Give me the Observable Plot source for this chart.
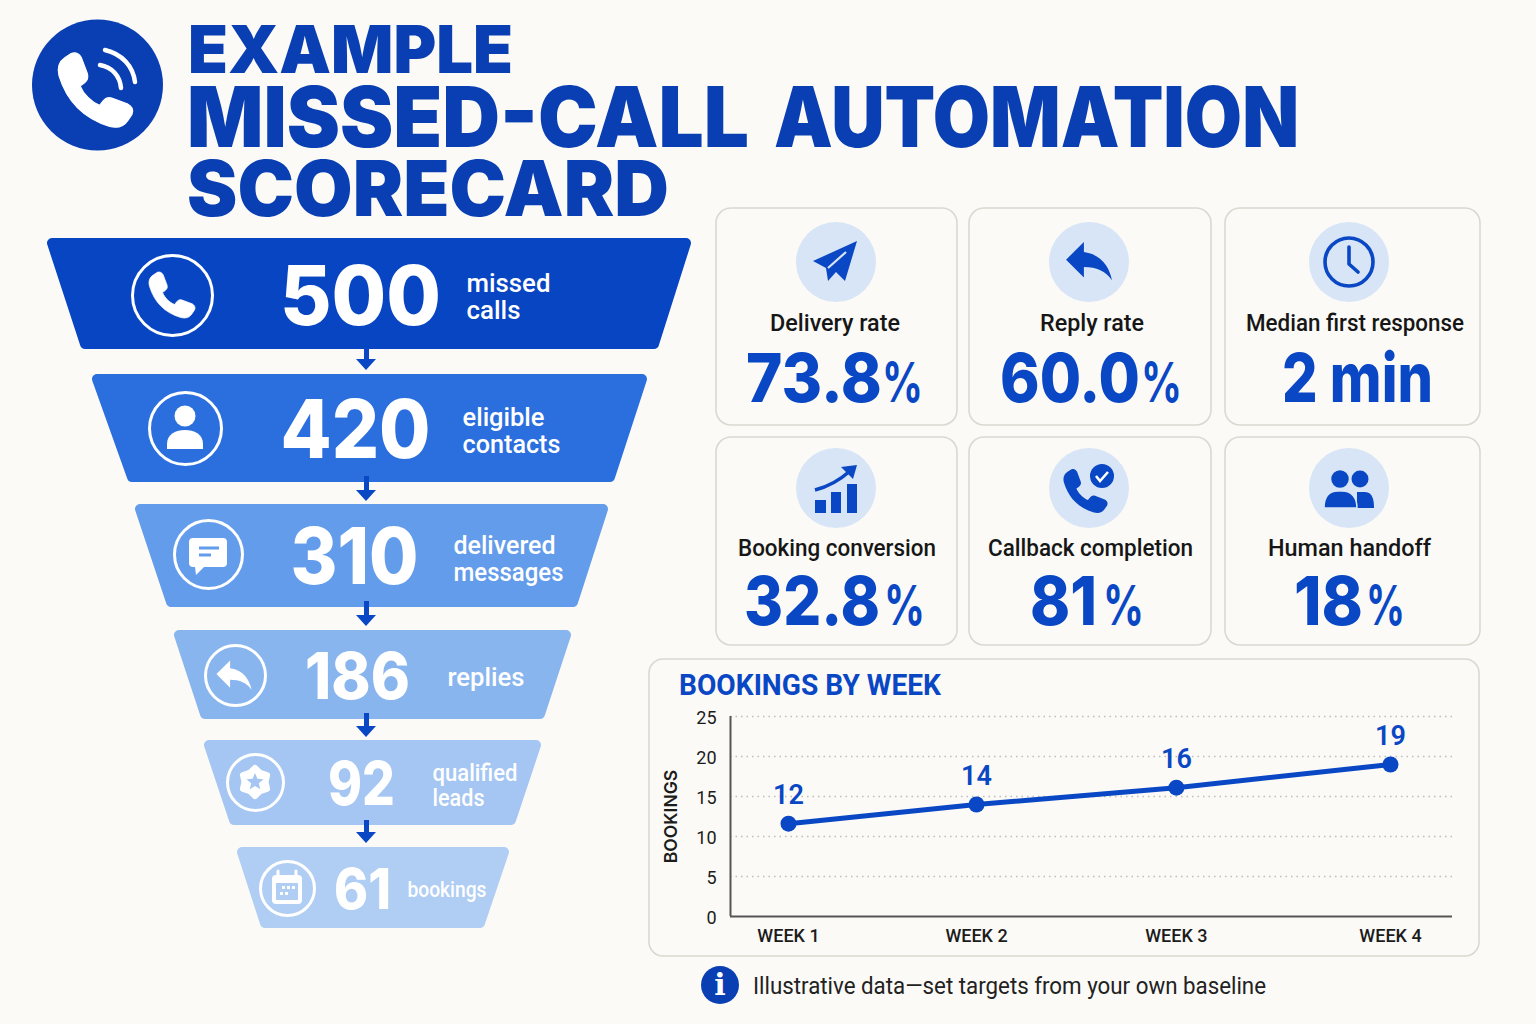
<!DOCTYPE html>
<html><head><meta charset="utf-8">
<script src="https://cdn.jsdelivr.net/npm/d3@7"></script>
<script src="https://cdn.jsdelivr.net/npm/@observablehq/plot@0.6"></script>
<style>
html,body{margin:0;padding:0;background:#fbfaf7;overflow:hidden}
#page{position:relative;width:1536px;height:1024px;background:#fbfaf7}
#page>*{position:absolute}
svg{display:block}
</style></head><body><div id="page"></div>
<script>
// ---- values ----
const titleLines = ["EXAMPLE","MISSED-CALL AUTOMATION","SCORECARD"];
const stageValues = [500,420,310,186,92,61];
const stageLabels = ["missed\ncalls","eligible\ncontacts","delivered\nmessages","replies","qualified\nleads","bookings"];
const kpiLabels = ["Delivery rate","Reply rate","Median first response","Booking conversion","Callback completion","Human handoff"];
const kpiValues = ["73.8","60.0","2 min","32.8","81","18"];
const kpiUnits  = ["%","%","","%","%","%"];
const weekLabels = ["WEEK 1","WEEK 2","WEEK 3","WEEK 4"];
const weekAt = [1,1.937,2.933,4];
const weekBookings = [11.6,14,16.1,19];
const weekBookingLabels = ["12","14","16","19"];
const yTicks = [0,5,10,15,20,25];
const chartTitle = "BOOKINGS BY WEEK";
const yTitle = "BOOKINGS";
const footnote = "Illustrative data\u2014set targets from your own baseline";

// ---- layout and style ----
const BLUE="#0a47c4", NAVY="#0a3fb3", INK="#1c1c1c", BG="#fbfaf7", EDGE="#dcd8d1", TINT="#d8e5f6";
const stageColors=["#0845c2","#2b6fdf","#639ceb","#89b5ef","#a5c6f2","#b0cdf4"];
const stageGeo=[ // top, bottom, topLeft, topRight, bottomLeft, bottomRight
 [238,349,46,692,79,660],[374,482,91,648,126,616],[504,607,134,609,165,579],
 [630,719,173,572,199,546],[740,825,203,542,228,517],[847,928,236,510,259,486]];
const numFont=[[360,298,82,161],[355,432,81,150],[354,559,78,128],[357,678,65,105],[361,785,60,67],[362,891,56,57]];
const labelPos=[[466,296,26],[462,430,26],[453,558,26],[447,677,26],[432,785,24],[407,889,22]];
const labelFit={missed:84,calls:54,eligible:82,contacts:98,delivered:102,messages:110,replies:77,qualified:85,leads:52,bookings:79};
const ringPos=[[172,295,40],[185,428,36],[208,554,34],[235,675,30],[255,782,28],[287,888,27]];
const arrowPos=[[348,370],[476,501],[601,626],[713,737],[820,843]];
const ARROW_X=366;

const page=document.getElementById("page");

// ---- funnel ----
const R=5;
const trapezoids=stageGeo.flatMap((g,i)=>[
 {stage:i,y:g[0]+R,l:g[2]+R+1,r:g[3]-R-1,c:stageColors[i]},
 {stage:i,y:g[1]-R,l:g[4]+R+1,r:g[5]-R-1,c:stageColors[i]}]);
const arrowHeads=arrowPos.flatMap((a,i)=>[
 {k:i,y:a[1]-11,l:ARROW_X-10,r:ARROW_X+10},{k:i,y:a[1],l:ARROW_X,r:ARROW_X}]);
const stageRows=stageValues.map((v,i)=>({v,label:stageLabels[i],nx:numFont[i][0],ny:numFont[i][1],ns:numFont[i][2],
 lx:labelPos[i][0],ly:labelPos[i][1],ls:labelPos[i][2],rx:ringPos[i][0],ry:ringPos[i][1],rr:ringPos[i][2]}));

const funnel=Plot.plot({
 width:720,height:1024,margin:0,
 x:{domain:[0,720],range:[0,720],axis:null},
 y:{domain:[0,1024],range:[0,1024],axis:null},
 color:{type:"identity"},
 r:{type:"identity"},
 style:{background:"transparent",fontFamily:"Roboto, sans-serif",overflow:"visible"},
 marks:[
  Plot.areaX(trapezoids,{x1:"l",x2:"r",y:"y",z:"stage",fill:"c",stroke:"c",strokeWidth:R*2,strokeLinejoin:"round"}),
  Plot.ruleX(arrowPos,{x:()=>ARROW_X,y1:a=>a[0],y2:a=>a[1]-8,stroke:BLUE,strokeWidth:5}),
  Plot.areaX(arrowHeads,{x1:"l",x2:"r",y:"y",z:"k",fill:BLUE}),
  Plot.dot(stageRows,{x:"rx",y:"ry",r:"rr",stroke:"white",strokeWidth:3,fill:"none"}),
  ...stageRows.map(s=>Plot.text([s],{x:"nx",y:"ny",text:d=>String(d.v),fill:"#fff",fontSize:s.ns,fontWeight:800,fontFamily:"Inter, sans-serif",textAnchor:"middle"})),
  ...stageRows.map(s=>Plot.text([s],{x:"lx",y:"ly",text:"label",fill:"#fff",fontSize:s.ls,fontWeight:500,textAnchor:"start",lineHeight:1.04}))
 ]
});
funnel.style.left="0";funnel.style.top="0";
// fit funnel words to the widths
funnel.querySelectorAll("text").forEach(t=>{
 const n=stageValues.indexOf(+t.textContent);
 if(n>=0){t.setAttribute("textLength",numFont[n][3]);t.setAttribute("lengthAdjust","spacingAndGlyphs");return;}
 const parts=t.querySelectorAll("tspan");
 (parts.length?[...parts]:[t]).forEach(p=>{const w=labelFit[p.textContent];if(w){p.setAttribute("textLength",w);p.setAttribute("lengthAdjust","spacingAndGlyphs");}});
});

// ---- line chart ----
const bookings=weekAt.map((w,i)=>({w,v:weekBookings[i],t:weekBookingLabels[i]}));
const line=Plot.plot({
 width:832,height:299,marginLeft:82,marginRight:28,marginTop:58,marginBottom:41,
 x:{domain:[0.711,4.309]},y:{domain:[0,25]},
 style:{background:"transparent",fontFamily:"Roboto, sans-serif",overflow:"visible",color:INK},
 marks:[
  Plot.ruleY(yTicks.slice(1),{stroke:"#bdbdb8",strokeWidth:1.5,strokeDasharray:"1.5 4"}),
  Plot.ruleY([0],{stroke:"#555",strokeWidth:2}),
  Plot.ruleX([0.711],{stroke:"#555",strokeWidth:2}),
  Plot.axisY({ticks:yTicks,tickSize:0,tickPadding:14,fontSize:18,label:null,dy:2}),
  Plot.axisX({ticks:weekAt,tickFormat:d=>weekLabels[weekAt.indexOf(d)],tickSize:0,tickPadding:13,fontSize:18,fontWeight:500,label:null}),
  Plot.text([yTitle],{frameAnchor:"left",dx:-59,rotate:-90,textAnchor:"middle",fontSize:17.5,fontWeight:600,fontFamily:"Inter, sans-serif",fill:INK,text:d=>d}),
  Plot.line(bookings,{x:"w",y:"v",stroke:BLUE,strokeWidth:5}),
  Plot.dot(bookings,{x:"w",y:"v",r:8,fill:BLUE}),
  Plot.text(bookings,{x:"w",y:"v",text:"t",dy:-28,fill:BLUE,fontSize:27,fontWeight:600})
 ]
});
line.style.left="648px";line.style.top="658px";

// ---- text and pictograms around the charts ----
const esc=s=>s.replace(/&/g,"&amp;");
function T(x,y,s,o={}){
 const f=o.family||"Roboto, sans-serif";
 return `<text x="${x}" y="${y}" font-family="${f}" font-size="${o.size}" font-weight="${o.weight||400}" fill="${o.fill||INK}" text-anchor="${o.anchor||"start"}"${o.width?` textLength="${o.width}" lengthAdjust="spacingAndGlyphs"`:""}>${esc(s)}</text>`;
}
const FIT=`lengthAdjust="spacingAndGlyphs"`;
const PHONE="M6 3C7 2.5 8 3 8.5 4L10 8C10.3 9 10 9.6 9.3 10.2L8.2 11C9 13 11 15 13 15.8L13.9 14.7C14.5 14 15 13.7 16 14L20 15.5C21 16 21.5 17 21 18L20 19.5C19 21 17.5 21.5 15.5 21C9 19 5 15 3 8.5C2.5 6.5 3 5 4.5 4Z";
const REPLY="M10 9V5l-7 7 7 7v-4.1c5 0 8.5 1.6 11 5.1-1-5-4-10-11-11z";
const G=(x,y,s,body)=>`<g transform="translate(${x},${y}) scale(${s})">${body}</g>`;
const phone24=(fill,sw=0.8)=>`<path transform="translate(-12,-12)" d="${PHONE}" fill="${fill}" stroke="${fill}" stroke-width="${sw}" stroke-linejoin="round"/>`;
const reply24=fill=>`<path transform="translate(-12,-12.5)" d="${REPLY}" fill="${fill}"/>`;
function scallop(r1,r2,n){let p=[];for(let i=0;i<n*2;i++){const a=-Math.PI/2+i*Math.PI/n,r=i%2?r2:r1;p.push((r*Math.cos(a)).toFixed(1)+","+(r*Math.sin(a)).toFixed(1));}return p.join(" ");}

let back="",front="";
// cards
const cards=[[716,208,241,217],[969,208,242,217],[1225,208,255,217],[716,437,241,208],[969,437,242,208],[1225,437,255,208]];
cards.forEach(c=>{back+=`<rect x="${c[0]}" y="${c[1]}" width="${c[2]}" height="${c[3]}" rx="15" fill="#fbfaf6" stroke="${EDGE}" stroke-width="1.6"/>`;});
back+=`<rect x="649" y="659" width="830" height="297" rx="14" fill="#fbfaf6" stroke="${EDGE}" stroke-width="1.6"/>`;
// title: one text element with one tspan per fitted run
const [t2a,t2b]=titleLines[1].split(" ");
front+=`<text font-family="Inter, sans-serif" font-weight="900" fill="${NAVY}">`+
 `<tspan x="188" y="73" font-size="66" textLength="325" ${FIT}>${titleLines[0]}</tspan> `+
 `<tspan x="187" y="147" font-size="84" textLength="562" ${FIT}>${t2a}</tspan> `+
 `<tspan x="774" y="147" font-size="84" textLength="525" ${FIT}>${t2b}</tspan> `+
 `<tspan x="187" y="216" font-size="77" textLength="482" ${FIT}>${titleLines[2]}</tspan></text>`;
front+=`<circle cx="97.5" cy="85" r="65.5" fill="${NAVY}"/>`;
front+=G(95.5,90,4.05,phone24("#fff",0.3));
front+=`<path d="M100 65 C112 67 120 76 121 88" fill="none" stroke="#fff" stroke-width="4.5" stroke-linecap="round"/><path d="M105 50 C122 54 133 66 135 82" fill="none" stroke="#fff" stroke-width="4.5" stroke-linecap="round"/>`;
// stage pictograms
front+=G(172,295,2.5,phone24("#fff",0.3));
front+=`<g transform="translate(185,428)" fill="#fff"><circle cx="0" cy="-12" r="10.5"/><path d="M-18 21v-5C-18 6-9 2 0 2s18 4 18 14v5z"/></g>`;
front+=`<g transform="translate(208,554)"><path d="M-15-16H15a4 4 0 0 1 4 4V9a4 4 0 0 1-4 4H-4l-8 8 -1-8H-15a4 4 0 0 1-4-4V-12a4 4 0 0 1 4-4z" fill="#fff"/><path d="M-9-6H11M-9 1H3" stroke="${stageColors[2]}" stroke-width="3"/></g>`;
front+=G(234,675,1.95,reply24("#fff"));
front+=`<g transform="translate(255,782)"><polygon points="${scallop(14,10.5,6)}" fill="#fff" stroke="#fff" stroke-width="6" stroke-linejoin="round"/><polygon points="${scallop(9,4,5)}" fill="${stageColors[4]}"/></g>`;
front+=`<g transform="translate(287,888)"><rect x="-15" y="-13" width="30" height="29" rx="4" fill="#fff"/><path d="M-9-17v7M9-17v7" stroke="#fff" stroke-width="3" stroke-linecap="round"/><rect x="-11" y="-5" width="22" height="17" fill="${stageColors[5]}"/><g fill="#fff"><rect x="-5" y="-2" width="3" height="3"/><rect x="0" y="-2" width="3" height="3"/><rect x="5" y="-2" width="3" height="3"/><rect x="-7" y="4" width="3" height="3"/><rect x="-2" y="4" width="3" height="3"/></g></g>`;
// KPI cards
const kpiCircle=[[836,262],[1089,262],[1349,262],[836,488],[1089,488],[1349,488]];
kpiCircle.forEach(c=>{front+=`<circle cx="${c[0]}" cy="${c[1]}" r="40" fill="${TINT}"/>`;});
front+=`<g transform="translate(836,262)"><polygon points="21,-21 -23,-1 -10,6 -8,19 0,10 9,19" fill="${BLUE}"/><path d="M-8 6L10-10" stroke="${TINT}" stroke-width="2.2"/></g>`;
front+=G(1089,261,2.55,reply24(BLUE));
front+=`<g transform="translate(1349,262)" fill="none" stroke="${BLUE}" stroke-width="3.6"><circle r="24"/><path d="M0-15V2L9 10" stroke-linecap="round" stroke-linejoin="round"/></g>`;
front+=`<g transform="translate(836,488)" fill="${BLUE}"><rect x="-21" y="12" width="11" height="13"/><rect x="-5" y="4" width="10" height="21"/><rect x="11" y="-4" width="10" height="29"/><path d="M-21 2C-5-2 5-9 14-17" fill="none" stroke="${BLUE}" stroke-width="3.5"/><polygon points="21,-23 5,-21 17,-9"/></g>`;
front+=`<g transform="translate(1089,488)"><path transform="translate(-3.5,3) scale(2.4) translate(-12,-12)" d="${PHONE}" fill="${BLUE}"/><circle cx="13" cy="-12" r="13" fill="${BLUE}" stroke="${TINT}" stroke-width="2"/><path d="M7-12l4 5 8-9" fill="none" stroke="#fff" stroke-width="2.6"/></g>`;
front+=`<g transform="translate(1349,488)" fill="${BLUE}"><circle cx="11" cy="-9" r="8.5"/><path d="M8 4h8c8 0 9 9 9 16H8z"/><circle cx="-9" cy="-9" r="9.5" stroke="${TINT}" stroke-width="1.5"/><path d="M-25 20c0-10 4-17 14-17h4c10 0 15 7 15 17z" stroke="${TINT}" stroke-width="1.5"/></g>`;
// KPI text
const lblPos=[[770,331,130],[1040,331,104],[1246,331,218],[738,556,198],[988,556,205],[1268,556,163]];
const valPos=[[746,402,136],[1000,402,140],[1282,402,151],[744,625,136],[1030,625,67],[1294,625,69]];
const pctPos=[[882,41],[1141,41],null,[884,41],[1103,41],[1366,39]];
kpiLabels.forEach((s,i)=>{front+=T(lblPos[i][0],lblPos[i][1],s,{size:24,weight:500,fill:"#161616",width:lblPos[i][2]});});
kpiValues.forEach((s,i)=>{
 const unit=kpiUnits[i]?`<tspan x="${pctPos[i][0]}" font-size="55" font-weight="700" textLength="${pctPos[i][1]}" ${FIT}>${kpiUnits[i]}</tspan>`:"";
 front+=`<text y="${valPos[i][1]}" font-family="Inter, sans-serif" fill="${BLUE}"><tspan x="${valPos[i][0]}" font-size="68" font-weight="800" textLength="${valPos[i][2]}" ${FIT}>${s}</tspan>${unit}</text>`;
});
// chart heading + footnote
front+=T(679,695,chartTitle,{size:29,weight:700,fill:BLUE,width:262});
front+=`<circle cx="720" cy="985" r="19" fill="${NAVY}"/>`;
front+=T(720,995,"i",{size:30,weight:700,family:"'DejaVu Serif', serif",fill:"#fff",anchor:"middle"});
front+=T(753,994,footnote,{size:23,fill:"#222",width:513});

const mk=b=>{const d=document.createElement("div");d.innerHTML=`<svg xmlns="http://www.w3.org/2000/svg" width="1536" height="1024" viewBox="0 0 1536 1024">${b}</svg>`;const s=d.firstChild;s.style.left="0";s.style.top="0";s.style.pointerEvents="none";return s;};
page.append(mk(back),funnel,line,mk(front));
</script></body></html>
